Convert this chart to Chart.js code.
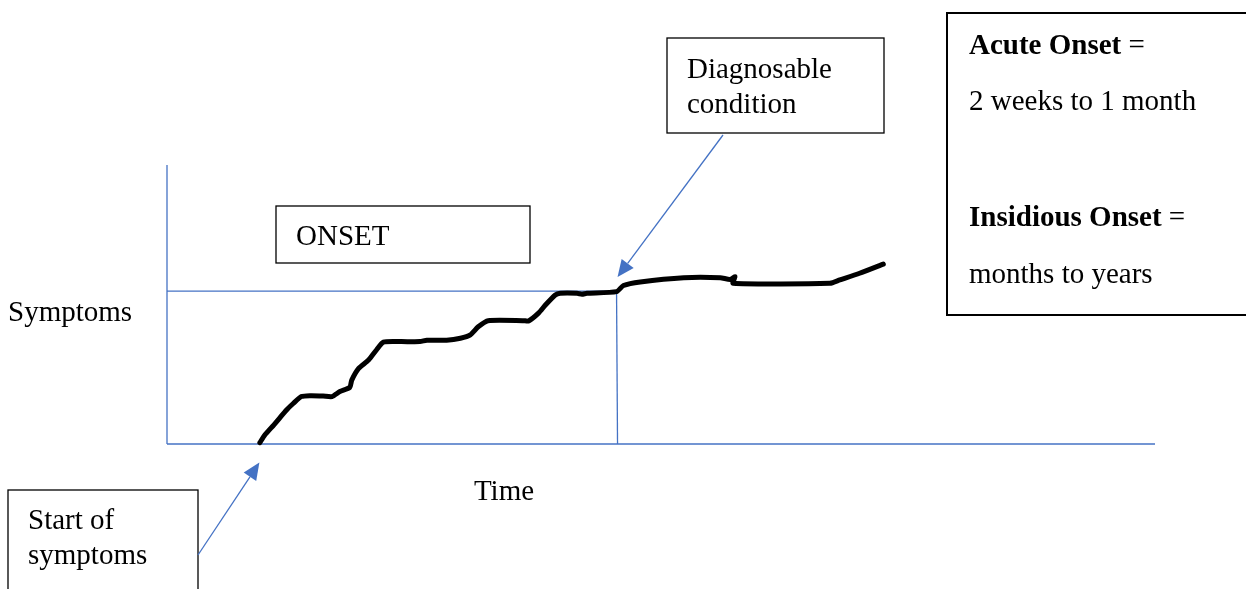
<!DOCTYPE html>
<html>
<head>
<meta charset="utf-8">
<script src="https://cdn.jsdelivr.net/npm/chart.js@4/dist/chart.umd.min.js"></script>
<style>
  html, body { margin: 0; padding: 0; background: #ffffff; }
  canvas { display: block; }
</style>
</head>
<body>
<canvas id="c" width="1246" height="589"></canvas>
<script>
// ---- data (time 0..100, symptoms 0..100) ----
const curveTime = [9.4, 9.9, 10.8, 11.4, 12.1, 12.8, 13.6, 14.5, 15.8, 16.7, 17.5, 18.5, 18.7, 19.4, 20.4, 21.2, 21.9, 23.6, 25.6, 26.3, 28.3, 29.7, 30.7, 31.5, 32.5, 36.1, 36.6, 37.6, 38.3, 39.3, 39.8, 41.5, 42.0, 42.5, 45.5, 46.2, 47.9, 52.3, 56.0, 57.0, 57.5, 57.3, 67.1, 68.1, 70.1, 72.5];
const curveSymptoms = [0.5, 3.2, 6.8, 9.3, 12.2, 14.6, 17.0, 17.3, 17.2, 17.0, 18.8, 20.3, 22.9, 27.1, 30.1, 33.7, 36.5, 36.7, 36.7, 37.2, 37.2, 37.9, 39.1, 42.0, 44.2, 44.2, 44.1, 46.9, 49.8, 53.4, 54.0, 54.0, 53.7, 54.0, 54.6, 56.8, 58.1, 59.6, 59.6, 59.0, 60.0, 57.6, 57.6, 58.8, 61.2, 64.5];
const thresholdSymptoms = 54.8;   // "Diagnosable condition" level
const diagnosisTime = 45.5;       // time the condition becomes diagnosable
const axisMax = 100;

const axisLabels = { x: "Time", y: "Symptoms" };
const boxTexts = {
  onset: ["ONSET"],
  diag: ["Diagnosable", "condition"],
  start: ["Start of", "symptoms"]
};

const BLUE = "#4472C4";

const pts = curveTime.map((t, i) => ({ x: t, y: curveSymptoms[i] }));

function lineDs(data, color, width) {
  return {
    data, showLine: true, borderColor: color, borderWidth: width,
    pointRadius: 0, pointHoverRadius: 0, fill: false, clip: false, tension: 0
  };
}

const annotations = {
  id: "annotations",
  afterDatasetsDraw(chart) {
    const ctx = chart.ctx;
    const sx = chart.scales.x, sy = chart.scales.y;
    ctx.save();
    const FONT = "29px 'Liberation Serif', 'Times New Roman', serif";
    const BOLD = "bold 29px 'Liberation Serif', 'Times New Roman', serif";
    ctx.textBaseline = "alphabetic";
    ctx.fillStyle = "#000";

    function box(x1, y1, x2, y2, lw) {
      ctx.fillStyle = "#fff";
      ctx.fillRect(x1, y1, x2 - x1, y2 - y1);
      ctx.strokeStyle = "#000";
      ctx.lineWidth = lw || 1.3;
      ctx.strokeRect(x1, y1, x2 - x1, y2 - y1);
      ctx.fillStyle = "#000";
    }
    function arrow(x1, y1, x2, y2) {
      const ang = Math.atan2(y2 - y1, x2 - x1);
      const L = 17, W = 7.5;
      const bx = x2 - L * Math.cos(ang), by = y2 - L * Math.sin(ang);
      ctx.strokeStyle = BLUE;
      ctx.lineWidth = 1.3;
      ctx.beginPath();
      ctx.moveTo(x1, y1);
      ctx.lineTo(bx, by);
      ctx.stroke();
      ctx.fillStyle = BLUE;
      ctx.beginPath();
      ctx.moveTo(x2, y2);
      ctx.lineTo(bx + W * Math.sin(ang), by - W * Math.cos(ang));
      ctx.lineTo(bx - W * Math.sin(ang), by + W * Math.cos(ang));
      ctx.closePath();
      ctx.fill();
      ctx.fillStyle = "#000";
    }

    // axis labels
    ctx.font = FONT;
    ctx.textAlign = "left";
    ctx.fillText(axisLabels.y, 8, 321);
    ctx.textAlign = "center";
    ctx.fillText(axisLabels.x, 504, 500);
    ctx.textAlign = "left";

    // ONSET box
    box(276, 206, 530, 263);
    ctx.fillText(boxTexts.onset[0], 296, 245);

    // Diagnosable box
    box(667, 38, 884, 133);
    ctx.fillText(boxTexts.diag[0], 687, 78);
    ctx.fillText(boxTexts.diag[1], 687, 113);

    // Start of symptoms box
    box(8, 490, 198, 600);
    ctx.fillText(boxTexts.start[0], 28, 529);
    ctx.fillText(boxTexts.start[1], 28, 564);

    // Right info box
    box(947, 13, 1260, 315, 2);
    ctx.font = BOLD;
    ctx.fillText("Acute Onset", 969, 54);
    let w = ctx.measureText("Acute Onset").width;
    ctx.font = FONT;
    ctx.fillText(" =", 969 + w, 54);
    ctx.fillText("2 weeks to 1 month", 969, 110);
    ctx.font = BOLD;
    ctx.fillText("Insidious Onset", 969, 226);
    w = ctx.measureText("Insidious Onset").width;
    ctx.font = FONT;
    ctx.fillText(" =", 969 + w, 226);
    ctx.fillText("months to years", 969, 283);

    // arrows
    const dx = sx.getPixelForValue(diagnosisTime), dy = sy.getPixelForValue(thresholdSymptoms);
    arrow(723, 135, dx + 1, dy - 14);
    const s0x = sx.getPixelForValue(curveTime[0]), s0y = sy.getPixelForValue(curveSymptoms[0]);
    arrow(198, 555, s0x - 0.5, s0y + 20);

    ctx.restore();
  }
};

new Chart(document.getElementById("c"), {
  type: "scatter",
  data: {
    datasets: [
      Object.assign(lineDs(pts, "#000", 5), { borderCapStyle: "round", borderJoinStyle: "round", tension: 0.2 }),
      lineDs([{ x: 0, y: thresholdSymptoms }, { x: diagnosisTime, y: thresholdSymptoms }], BLUE, 1.3),
      lineDs([{ x: diagnosisTime, y: thresholdSymptoms }, { x: diagnosisTime + 0.1, y: 0 }], BLUE, 1.3),
      lineDs([{ x: 0, y: 0 }, { x: axisMax, y: 0 }], BLUE, 1.3),
      lineDs([{ x: 0, y: 0 }, { x: 0, y: axisMax }], BLUE, 1.3)
    ]
  },
  options: {
    responsive: false,
    animation: false,
    events: [],
    layout: { padding: { left: 167, top: 165, right: 91, bottom: 145 } },
    plugins: { legend: { display: false }, tooltip: { enabled: false } },
    scales: {
      x: { type: "linear", display: false, min: 0, max: axisMax },
      y: { type: "linear", display: false, min: 0, max: axisMax }
    }
  },
  plugins: [annotations]
});
</script>
</body>
</html>
